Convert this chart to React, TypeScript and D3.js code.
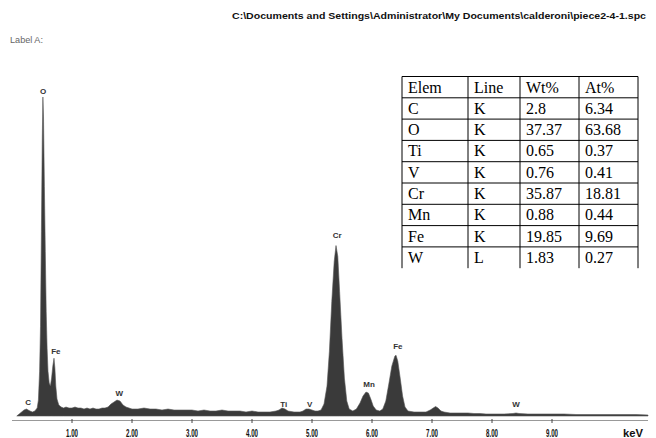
import React from "react";
import * as d3 from "d3";

const W = 656;
const H = 438;

const titleText = "C:\\Documents and Settings\\Administrator\\My Documents\\calderoni\\piece2-4-1.spc";
const labelText = "Label A:";

// spectrum (keV, counts)
const energies = [
  0.08, 0.12, 0.16, 0.2, 0.24, 0.27, 0.3, 0.34, 0.38, 0.42, 0.44, 0.46, 0.475, 0.49, 0.505, 0.515, 0.525, 0.54,
  0.555, 0.57, 0.585, 0.6, 0.62, 0.64, 0.66, 0.68, 0.7, 0.715, 0.73, 0.75, 0.78, 0.82, 0.86, 0.9, 0.95, 1.0,
  1.05, 1.1, 1.15, 1.2, 1.25, 1.3, 1.35, 1.4, 1.45, 1.5, 1.55, 1.6, 1.65, 1.7, 1.75, 1.8, 1.85, 1.9, 1.95, 2.0,
  2.1, 2.2, 2.3, 2.4, 2.5, 2.6, 2.7, 2.8, 2.9, 3.0, 3.1, 3.2, 3.3, 3.4, 3.5, 3.6, 3.7, 3.8, 3.9, 4.0, 4.1, 4.2,
  4.3, 4.4, 4.45, 4.5, 4.55, 4.6, 4.7, 4.8, 4.85, 4.9, 4.95, 5.0, 5.05, 5.1, 5.15, 5.2, 5.25, 5.29, 5.33, 5.37,
  5.4, 5.43, 5.46, 5.5, 5.54, 5.58, 5.62, 5.68, 5.74, 5.8, 5.85, 5.9, 5.94, 5.98, 6.02, 6.07, 6.13, 6.18, 6.23,
  6.28, 6.33, 6.38, 6.4, 6.43, 6.47, 6.51, 6.55, 6.6, 6.7, 6.8, 6.9, 6.97, 7.02, 7.06, 7.1, 7.15, 7.2, 7.3, 7.4,
  7.5, 7.6, 7.7, 7.8, 7.9, 8.0, 8.2, 8.35, 8.4, 8.45, 8.6, 8.8, 9.0, 9.2, 9.4, 9.6, 9.8, 10.0, 10.2, 10.4, 10.6,
];
const counts = [
  0, 2, 4, 6, 7, 6, 5, 4, 5, 8, 16, 45, 90, 185, 280, 320, 300, 230,
  165, 105, 68, 45, 33, 30, 38, 50, 58, 48, 30, 17, 11, 9, 8, 9, 8, 8,
  9, 8, 8, 7, 8, 7, 8, 7, 7, 8, 8, 9, 12, 14, 16, 15, 11, 9, 8, 7,
  7, 8, 7, 7, 6, 7, 6, 6, 6, 6, 5, 6, 5, 5, 6, 5, 5, 5, 4, 5, 4, 4,
  4, 5, 6, 8, 7, 5, 4, 4, 5, 7, 7, 6, 5, 5, 6, 12, 30, 65, 115, 155,
  171, 160, 125, 78, 38, 15, 7, 5, 7, 13, 20, 24, 23, 17, 10, 6, 5, 7, 15,
  32, 50, 60, 61, 55, 38, 20, 9, 5, 4, 4, 4, 6, 8, 9.5, 8, 5, 4, 3, 3,
  3, 3, 2.5, 2.5, 2, 2, 2, 2.5, 3, 2.5, 2, 2, 2, 2, 1.5, 1.5, 1.5, 1.5, 1.5, 1.5, 1,
];

// peak labels: element, keV position, counts at label baseline
const peakNames = ["O", "Fe", "C", "W", "Ti", "V", "Cr", "Mn", "Fe", "W"];
const peakKeV = [0.52, 0.73, 0.27, 1.79, 4.53, 4.96, 5.42, 5.95, 6.43, 8.4];
const peakLabelCounts = [323.5, 62, 11, 20, 9, 9, 178.5, 29, 67, 9];

const tickValues = [1, 2, 3, 4, 5, 6, 7, 8, 9];

// composition table
const tableHeader = ["Elem", "Line", "Wt%", "At%"];
const tableElem = ["C", "O", "Ti", "V", "Cr", "Mn", "Fe", "W"];
const tableLine = ["K", "K", "K", "K", "K", "K", "K", "L"];
const tableWt = ["2.8", "37.37", "0.65", "0.76", "35.87", "0.88", "19.85", "1.83"];
const tableAt = ["6.34", "63.68", "0.37", "0.41", "18.81", "0.44", "9.69", "0.27"];

export default function App() {
  const x = d3.scaleLinear().domain([0, 10.6]).range([12, 648]);
  const y = d3.scaleLinear().domain([0, 320]).range([416, 97]);

  const pts: [number, number][] = energies.map((e, i) => [e, counts[i]]);
  const area = d3
    .area<[number, number]>()
    .x((d) => x(d[0]))
    .y0(y(0))
    .y1((d) => y(d[1]))
    .curve(d3.curveLinear);

  const fmt = d3.format(".2f");

  const colX = [402, 468, 520, 579, 638];
  const tableTop = 76.5;
  const rowH = 21.3;
  const rows = [tableHeader].concat(
    tableElem.map((e, i) => [e, tableLine[i], tableWt[i], tableAt[i]])
  );
  const tableBottom = tableTop + rowH * rows.length;

  const sans = "'Liberation Sans', Arial, sans-serif";

  return (
    <svg
      width={W}
      height={H}
      style={{ position: "absolute", left: 0, top: 0, background: "#fff" }}
    >
      <rect x={0} y={0} width={W} height={H} fill="#fff" />
      <text
        x={232}
        y={19}
        fontFamily={sans}
        fontWeight="bold"
        fontSize={9.5}
        fill="#111"
        textLength={414}
        lengthAdjust="spacingAndGlyphs"
      >
        {titleText}
      </text>
      <text
        x={10}
        y={43}
        fontFamily={sans}
        fontSize={9}
        fill="#666"
        textLength={33}
        lengthAdjust="spacingAndGlyphs"
      >
        {labelText}
      </text>

      {/* spectrum */}
      <path d={area(pts) || ""} fill="#3a3a3a" stroke="#555" strokeWidth={0.6} />

      {/* axis */}
      <line x1={12} x2={648} y1={420.5} y2={420.5} stroke="#999" strokeWidth={1} />
      {tickValues.map((t) => (
        <g key={t}>
          <line x1={x(t)} x2={x(t)} y1={419} y2={423} stroke="#444" strokeWidth={1} />
          <text
            x={x(t)}
            y={436.5}
            textAnchor="middle"
            fontFamily={sans}
            fontWeight="bold"
            fontSize={10}
            fill="#111"
            textLength={12}
            lengthAdjust="spacingAndGlyphs"
          >
            {fmt(t)}
          </text>
        </g>
      ))}
      <text
        x={623}
        y={436.5}
        fontFamily={sans}
        fontWeight="bold"
        fontSize={10}
        fill="#111"
        textLength={20}
        lengthAdjust="spacingAndGlyphs"
      >
        keV
      </text>

      {/* peak labels */}
      {peakNames.map((n, i) => (
        <text
          key={i}
          x={x(peakKeV[i])}
          y={y(peakLabelCounts[i])}
          textAnchor="middle"
          fontFamily={sans}
          fontWeight="bold"
          fontSize={8}
          fill="#333"
        >
          {n}
        </text>
      ))}

      {/* table */}
      <g fontFamily="'Liberation Serif', 'Times New Roman', serif" fontSize={16} fill="#000">
        {rows.map((r, ri) => (
          <g key={ri}>
            <line
              x1={colX[0]}
              x2={colX[4]}
              y1={tableTop + ri * rowH}
              y2={tableTop + ri * rowH}
              stroke="#000"
              strokeWidth={1}
            />
            {r.map((c, ci) => (
              <text key={ci} x={colX[ci] + 6} y={tableTop + ri * rowH + 16}>
                {c}
              </text>
            ))}
          </g>
        ))}
        {colX.map((cx, i) => (
          <line key={i} x1={cx} x2={cx} y1={tableTop} y2={tableBottom} stroke="#000" strokeWidth={1} />
        ))}
      </g>
    </svg>
  );
}
